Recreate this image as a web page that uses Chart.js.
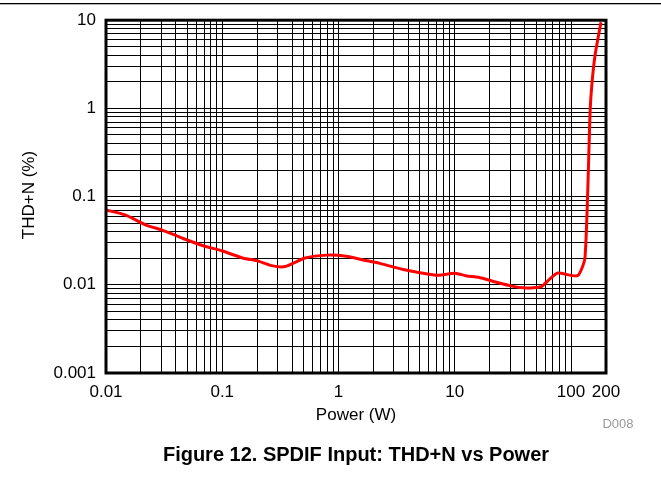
<!DOCTYPE html>
<html>
<head>
<meta charset="utf-8">
<script src="https://cdn.jsdelivr.net/npm/chart.js@4/dist/chart.umd.min.js"></script>
<style>
html,body{margin:0;padding:0;background:#fff;}
#wrap{position:relative;width:661px;height:482px;}
</style>
</head>
<body>
<div id="wrap"><canvas id="c" width="661" height="482"></canvas></div>
<script>
// Data
const power = [0.01, 0.0146, 0.0224, 0.0301, 0.0406, 0.046, 0.0687, 0.099, 0.152, 0.198, 0.266, 0.347, 0.515, 0.791, 1.17, 1.63, 2.27, 3.61, 5.02, 7.22, 10.05, 12.7, 16, 22.9, 31.9, 38.9, 47.4, 56, 66, 76.8, 114, 132, 146, 151, 161, 181];
const thd = [0.0705, 0.062, 0.0473, 0.042, 0.0359, 0.0335, 0.0277, 0.0243, 0.020, 0.0188, 0.0165, 0.0161, 0.0201, 0.0217, 0.0211, 0.0191, 0.0175, 0.0149, 0.0137, 0.0128, 0.0135, 0.0126, 0.0122, 0.0107, 0.0096, 0.00925, 0.00925, 0.0096, 0.0117, 0.0136, 0.0127, 0.0204, 0.92, 1.84, 4.0, 9.5];
const xTickLabels = [0.01, 0.1, 1, 10, 100, 200];
const yTickLabels = [0.001, 0.01, 0.1, 1, 10];
const xGridDecades = [0.01, 0.1, 1, 10];
const yGridDecades = [0.001, 0.01, 0.1, 1];
const xTitle = 'Power (W)';
const yTitle = 'THD+N (%)';
const caption = 'Figure 12. SPDIF Input: THD+N vs Power';
const docId = 'D008';

const FONT = '"Liberation Sans", Arial, sans-serif';

function fmt(v){
  return (Math.round(v*1e6)/1e6).toString();
}
function gridTicks(decades, extra){
  const t = [];
  decades.forEach(d => { for (let k=1;k<=9;k++) t.push(+(d*k).toPrecision(6)); });
  extra.forEach(v => t.push(v));
  return t.map(v => ({value:v}));
}
function isLabel(list, v){
  return list.some(l => Math.abs(l - v)/l < 1e-6);
}

const decor = {
  id:'decor',
  afterDraw(chart){
    const ctx = chart.ctx, a = chart.chartArea;
    ctx.save();
    // top rule
    ctx.fillStyle = '#000';
    ctx.fillRect(0, 3, 661, 1.3);
    // plot frame
    ctx.strokeStyle = '#000';
    ctx.lineWidth = 3;
    ctx.strokeRect(a.left, a.top, a.right - a.left, a.bottom - a.top);
    // axis titles
    ctx.fillStyle = '#000';
    ctx.font = '17px ' + FONT;
    ctx.textAlign = 'center';
    ctx.textBaseline = 'middle';
    ctx.fillText(xTitle, 356, 415);
    ctx.save();
    ctx.translate(29, 195);
    ctx.rotate(-Math.PI/2);
    ctx.fillText(yTitle, 0, 0);
    ctx.restore();
    // doc id
    ctx.fillStyle = '#999';
    ctx.font = '13px ' + FONT;
    ctx.fillText(docId, 618, 424);
    // caption
    ctx.fillStyle = '#000';
    ctx.font = 'bold 20px ' + FONT;
    ctx.fillText(caption, 356, 455);
    ctx.restore();
  }
};

new Chart(document.getElementById('c'), {
  type:'line',
  data:{
    datasets:[{
      data: power.map((p,i) => ({x:p, y:thd[i]})),
      borderColor:'#ff0000',
      borderWidth:3,
      pointRadius:0,
      tension:0.2,
      fill:false
    }]
  },
  options:{
    responsive:false,
    animation:false,
    devicePixelRatio:1,
    layout:{padding:{left:0, top:18, right:55, bottom:0}},
    plugins:{legend:{display:false}, tooltip:{enabled:false}, title:{display:false}},
    scales:{
      x:{
        type:'logarithmic',
        min:0.01, max:200,
        afterBuildTicks(s){ s.ticks = gridTicks(xGridDecades, [100, 200]); },
        afterFit(s){ s.height = 109; },
        border:{display:false},
        grid:{color:'#000', lineWidth:1, drawTicks:false},
        ticks:{
          autoSkip:false, maxRotation:0, minRotation:0, padding:9,
          color:'#000', font:{family:FONT, size:17},
          callback(v){ return isLabel(xTickLabels, v) ? fmt(v) : ''; }
        }
      },
      y:{
        type:'logarithmic',
        min:0.001, max:10,
        afterBuildTicks(s){ s.ticks = gridTicks(yGridDecades, [10]); },
        afterFit(s){ s.width = 106; },
        border:{display:false},
        grid:{color:'#000', lineWidth:1, drawTicks:false},
        ticks:{
          autoSkip:false, padding:10,
          color:'#000', font:{family:FONT, size:17},
          callback(v){ return isLabel(yTickLabels, v) ? fmt(v) : ''; }
        }
      }
    }
  },
  plugins:[decor]
});
</script>
</body>
</html>
